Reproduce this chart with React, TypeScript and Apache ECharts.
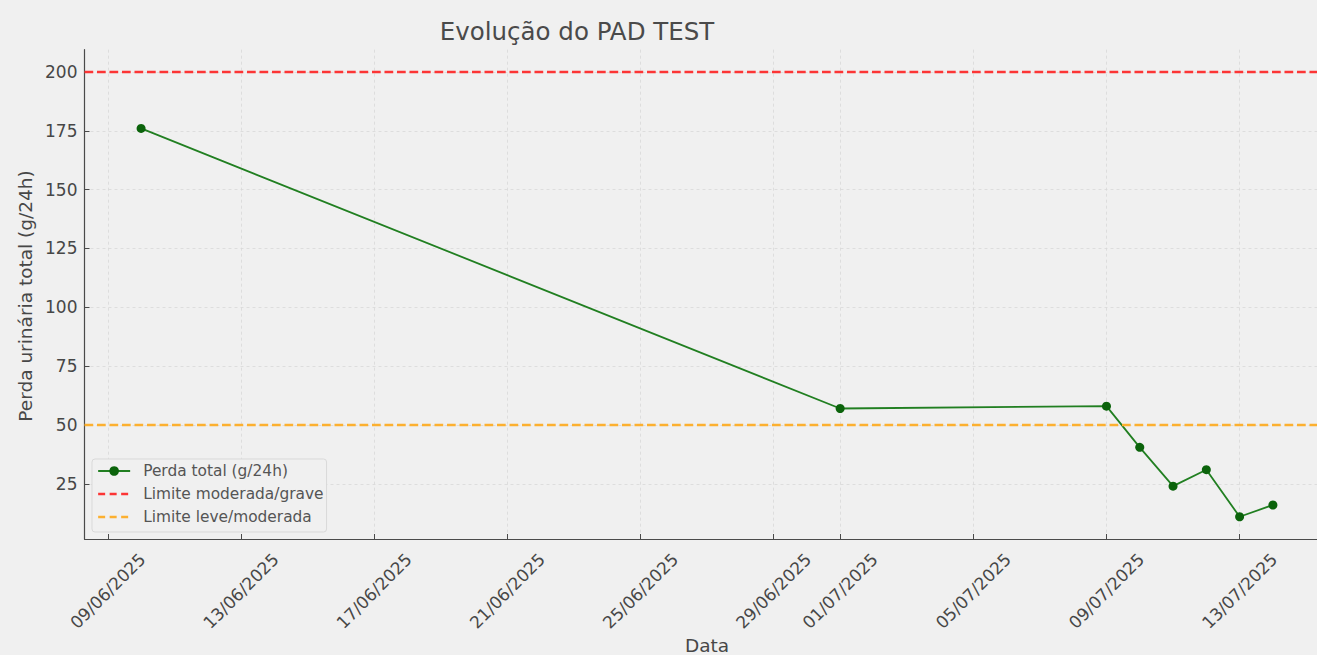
import React, { useEffect, useRef } from 'react';
import * as echarts from 'echarts';

// ---- Data ----
const dates: string[] = ['2025-06-10', '2025-07-01', '2025-07-09', '2025-07-10', '2025-07-11', '2025-07-12', '2025-07-13', '2025-07-14'];
const values: number[] = [176, 57, 58, 40.5, 24, 31, 11, 16];
const tickDates: string[] = ['2025-06-09', '2025-06-13', '2025-06-17', '2025-06-21', '2025-06-25', '2025-06-29', '2025-07-01', '2025-07-05', '2025-07-09', '2025-07-13'];
const yTicks: number[] = [25, 50, 75, 100, 125, 150, 175, 200];
const limitSevere = 200;
const limitModerate = 50;

const titleText = 'Evolução do PAD TEST';
const xName = 'Data';
const yName = 'Perda urinária total (g/24h)';
const seriesName = 'Perda total (g/24h)';
const severeName = 'Limite moderada/grave';
const moderateName = 'Limite leve/moderada';

const FONT = 'DejaVu Sans';
const TEXT = '#474747';
const RED = '#fc3535';
const ORANGE = '#fcb030';

const toTs = (s: string) => {
  const [y, m, d] = s.split('-').map(Number);
  return new Date(y, m - 1, d).getTime();
};
const pad2 = (n: number) => String(n).padStart(2, '0');
const fmtDate = (v: number) => {
  const d = new Date(v);
  return `${pad2(d.getDate())}/${pad2(d.getMonth() + 1)}/${d.getFullYear()}`;
};

export default function App() {
  const ref = useRef<HTMLDivElement>(null);

  useEffect(() => {
    if (!ref.current) return;
    const chart = echarts.init(ref.current, undefined, { renderer: 'svg' });

    const xs = dates.map(toTs);
    const ticks = tickDates.map(toTs);
    const xSpan = xs[xs.length - 1] - xs[0];
    const xMin = xs[0] - 0.05 * xSpan;
    const xMax = xs[xs.length - 1] + 0.05 * xSpan;
    const allY = [...values, limitSevere, limitModerate];
    const yLo = Math.min(...allY);
    const yHi = Math.max(...allY);
    const yMin = yLo - 0.05 * (yHi - yLo);
    const yMax = yHi + 0.05 * (yHi - yLo);

    const gridLine = { show: true, lineStyle: { color: '#d8d8d8', width: 0.8, type: [3, 3] as any } };
    const axisLine = { show: true, onZero: false, lineStyle: { color: '#4a4a4a', width: 1.2 } };
    const dash = [8.7, 3.8];

    chart.setOption({
      animation: false,
      backgroundColor: '#f0f0f0',
      textStyle: { fontFamily: FONT },
      grid: { left: 84.5, top: 49.7, width: 1245, height: 489.3, containLabel: false, outerBoundsMode: 'none' },
      xAxis: {
        type: 'value',
        min: xMin,
        max: xMax,
        scale: true,
        axisLine,
        axisTick: { show: true, inside: true, length: 5, customValues: ticks, lineStyle: { color: '#4a4a4a', width: 1 } },
        axisLabel: {
          customValues: ticks,
          formatter: (v: number) => fmtDate(v),
          rotate: 45,
          align: 'center',
          verticalAlign: 'middle',
          margin: 52,
          fontSize: 17,
          color: TEXT,
          fontFamily: FONT,
          hideOverlap: false,
        },
        splitLine: gridLine,
      },
      yAxis: {
        type: 'value',
        min: yMin,
        max: yMax,
        axisLine,
        axisTick: { show: true, inside: true, length: 5, customValues: yTicks, lineStyle: { color: '#4a4a4a', width: 1 } },
        axisLabel: { customValues: yTicks, margin: 7, fontSize: 17, color: TEXT, fontFamily: FONT },
        splitLine: gridLine,
      },
      legend: {
        orient: 'vertical',
        left: 92,
        top: 459,
        padding: [3, 3, 6, 5],
        itemGap: 5,
        itemWidth: 32,
        itemHeight: 12,
        backgroundColor: '#f0f0f0',
        borderColor: '#d9d9d9',
        borderWidth: 1,
        borderRadius: 3,
        textStyle: { fontSize: 15.4, lineHeight: 18, color: '#555', fontFamily: FONT, padding: [0, 0, 0, 8] },
        data: [
          { name: seriesName },
          { name: severeName, itemStyle: { opacity: 0 }, lineStyle: { color: RED, width: 2.3, type: [7, 4.5] } },
          { name: moderateName, itemStyle: { opacity: 0 }, lineStyle: { color: ORANGE, width: 2.3, type: [7, 4.5] } },
        ],
      },
      graphic: [
        {
          type: 'text',
          x: 577,
          y: 31.5,
          style: { text: titleText, fontSize: 24.5, fontFamily: FONT, fill: '#4a4a4a', align: 'center', verticalAlign: 'middle' },
        },
        {
          type: 'text',
          x: 707,
          y: 645,
          style: { text: xName, fontSize: 18.5, fontFamily: FONT, fill: TEXT, align: 'center', verticalAlign: 'middle' },
        },
        {
          type: 'text',
          x: 25,
          y: 296,
          rotation: Math.PI / 2,
          style: { text: yName, fontSize: 18.5, fontFamily: FONT, fill: TEXT, align: 'center', verticalAlign: 'middle' },
        },
      ],
      series: [
        {
          name: seriesName,
          type: 'line',
          data: xs.map((x, i) => [x, values[i]]),
          symbol: 'circle',
          symbolSize: 9,
          color: '#0d650d',
          itemStyle: { color: '#0b630b' },
          lineStyle: { color: '#217f21', width: 1.8 },
          z: 3,
        },
        {
          name: severeName,
          type: 'line',
          data: [],
          symbol: 'none',
          color: RED,
          lineStyle: { color: RED, width: 2.3, type: dash },
          markLine: {
            silent: true,
            symbol: 'none',
            label: { show: false },
            lineStyle: { color: RED, width: 2.3, type: dash },
            data: [{ yAxis: limitSevere }],
          },
          z: 4,
        },
        {
          name: moderateName,
          type: 'line',
          data: [],
          symbol: 'none',
          color: ORANGE,
          lineStyle: { color: ORANGE, width: 2.3, type: dash },
          markLine: {
            silent: true,
            symbol: 'none',
            label: { show: false },
            lineStyle: { color: ORANGE, width: 2.3, type: dash },
            data: [{ yAxis: limitModerate }],
          },
          z: 4,
        },
      ],
    } as any);

    return () => chart.dispose();
  }, []);

  return (
    <div
      ref={ref}
      style={{ position: 'absolute', left: 0, top: 0, width: 1317, height: 655, background: '#f0f0f0' }}
    />
  );
}
